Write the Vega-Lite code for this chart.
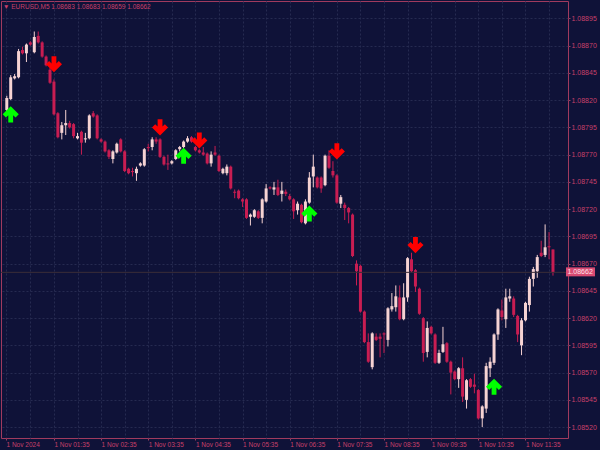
{
"$schema": "https://vega.github.io/schema/vega-lite/v6.json",
"width": 567,
"height": 437,
"autosize": {"type": "none"},
"padding": {"left": 1, "top": 1, "right": 32, "bottom": 12},
"background": "#0f1238",
"title": {"text": "▼ EURUSD,M5  1.08683 1.08683 1.08659 1.08662", "anchor": "start", "frame": "group", "orient": "top", "offset": -9, "dx": 2, "fontSize": 6.5, "font": "Liberation Sans", "fontWeight": "normal", "color": "#c8406a"},
"data": {"format": {"parse": {"t": "utc:'%Y-%m-%d %H:%M'"}}, "values": [
{"t":"2024-11-01 00:35","o":1.08811,"h":1.08824,"l":1.08810,"c":1.08822},
{"t":"2024-11-01 00:40","o":1.08821,"h":1.08843,"l":1.08820,"c":1.08841},
{"t":"2024-11-01 00:45","o":1.08840,"h":1.08844,"l":1.08839,"c":1.08842},
{"t":"2024-11-01 00:50","o":1.08841,"h":1.08867,"l":1.08840,"c":1.08865},
{"t":"2024-11-01 00:55","o":1.08866,"h":1.08869,"l":1.08862,"c":1.08863},
{"t":"2024-11-01 01:00","o":1.08863,"h":1.08872,"l":1.08855,"c":1.08871},
{"t":"2024-11-01 01:05","o":1.08873,"h":1.08874,"l":1.08870,"c":1.08871},
{"t":"2024-11-01 01:10","o":1.08864,"h":1.08883,"l":1.08863,"c":1.08878},
{"t":"2024-11-01 01:15","o":1.08879,"h":1.08883,"l":1.08872,"c":1.08873},
{"t":"2024-11-01 01:20","o":1.08873,"h":1.08874,"l":1.08859,"c":1.08860},
{"t":"2024-11-01 01:25","o":1.08860,"h":1.08861,"l":1.08851,"c":1.08852},
{"t":"2024-11-01 01:30","o":1.08848,"h":1.08850,"l":1.08835,"c":1.08836},
{"t":"2024-11-01 01:35","o":1.08837,"h":1.08839,"l":1.08806,"c":1.08807},
{"t":"2024-11-01 01:40","o":1.08808,"h":1.08809,"l":1.08785,"c":1.08786},
{"t":"2024-11-01 01:45","o":1.08790,"h":1.08800,"l":1.08784,"c":1.08797},
{"t":"2024-11-01 01:50","o":1.08797,"h":1.08811,"l":1.08788,"c":1.08799},
{"t":"2024-11-01 01:55","o":1.08799,"h":1.08801,"l":1.08794,"c":1.08795},
{"t":"2024-11-01 02:00","o":1.08798,"h":1.08799,"l":1.08785,"c":1.08787},
{"t":"2024-11-01 02:05","o":1.08785,"h":1.08790,"l":1.08784,"c":1.08787},
{"t":"2024-11-01 02:10","o":1.08791,"h":1.08792,"l":1.08770,"c":1.08781},
{"t":"2024-11-01 02:15","o":1.08784,"h":1.08790,"l":1.08781,"c":1.08785},
{"t":"2024-11-01 02:20","o":1.08785,"h":1.08807,"l":1.08784,"c":1.08806},
{"t":"2024-11-01 02:25","o":1.08808,"h":1.08810,"l":1.08804,"c":1.08805},
{"t":"2024-11-01 02:30","o":1.08806,"h":1.08807,"l":1.08784,"c":1.08785},
{"t":"2024-11-01 02:35","o":1.08784,"h":1.08785,"l":1.08781,"c":1.08782},
{"t":"2024-11-01 02:40","o":1.08782,"h":1.08783,"l":1.08772,"c":1.08773},
{"t":"2024-11-01 02:45","o":1.08774,"h":1.08775,"l":1.08766,"c":1.08768},
{"t":"2024-11-01 02:50","o":1.08766,"h":1.08774,"l":1.08762,"c":1.08773},
{"t":"2024-11-01 02:55","o":1.08772,"h":1.08781,"l":1.08771,"c":1.08780},
{"t":"2024-11-01 03:00","o":1.08784,"h":1.08785,"l":1.08772,"c":1.08773},
{"t":"2024-11-01 03:05","o":1.08773,"h":1.08774,"l":1.08754,"c":1.08755},
{"t":"2024-11-01 03:10","o":1.08757,"h":1.08758,"l":1.08752,"c":1.08753},
{"t":"2024-11-01 03:15","o":1.08755,"h":1.08758,"l":1.08750,"c":1.08754},
{"t":"2024-11-01 03:20","o":1.08753,"h":1.08759,"l":1.08746,"c":1.08757},
{"t":"2024-11-01 03:25","o":1.08760,"h":1.08763,"l":1.08759,"c":1.08762},
{"t":"2024-11-01 03:30","o":1.08760,"h":1.08776,"l":1.08759,"c":1.08775},
{"t":"2024-11-01 03:35","o":1.08777,"h":1.08780,"l":1.08773,"c":1.08776},
{"t":"2024-11-01 03:40","o":1.08777,"h":1.08786,"l":1.08774,"c":1.08784},
{"t":"2024-11-01 03:45","o":1.08784,"h":1.08786,"l":1.08780,"c":1.08782},
{"t":"2024-11-01 03:50","o":1.08784,"h":1.08785,"l":1.08767,"c":1.08768},
{"t":"2024-11-01 03:55","o":1.08768,"h":1.08769,"l":1.08760,"c":1.08761},
{"t":"2024-11-01 04:00","o":1.08762,"h":1.08770,"l":1.08756,"c":1.08761},
{"t":"2024-11-01 04:05","o":1.08762,"h":1.08765,"l":1.08761,"c":1.08764},
{"t":"2024-11-01 04:10","o":1.08766,"h":1.08775,"l":1.08765,"c":1.08774},
{"t":"2024-11-01 04:15","o":1.08775,"h":1.08778,"l":1.08773,"c":1.08777},
{"t":"2024-11-01 04:20","o":1.08777,"h":1.08783,"l":1.08776,"c":1.08782},
{"t":"2024-11-01 04:25","o":1.08782,"h":1.08787,"l":1.08781,"c":1.08785},
{"t":"2024-11-01 04:30","o":1.08786,"h":1.08787,"l":1.08781,"c":1.08782},
{"t":"2024-11-01 04:35","o":1.08777,"h":1.08778,"l":1.08773,"c":1.08774},
{"t":"2024-11-01 04:40","o":1.08774,"h":1.08775,"l":1.08771,"c":1.08772},
{"t":"2024-11-01 04:45","o":1.08772,"h":1.08777,"l":1.08769,"c":1.08770},
{"t":"2024-11-01 04:50","o":1.08771,"h":1.08772,"l":1.08761,"c":1.08762},
{"t":"2024-11-01 04:55","o":1.08762,"h":1.08773,"l":1.08759,"c":1.08770},
{"t":"2024-11-01 05:00","o":1.08772,"h":1.08778,"l":1.08769,"c":1.08770},
{"t":"2024-11-01 05:05","o":1.08769,"h":1.08770,"l":1.08754,"c":1.08755},
{"t":"2024-11-01 05:10","o":1.08753,"h":1.08758,"l":1.08752,"c":1.08757},
{"t":"2024-11-01 05:15","o":1.08753,"h":1.08761,"l":1.08751,"c":1.08759},
{"t":"2024-11-01 05:20","o":1.08759,"h":1.08760,"l":1.08738,"c":1.08739},
{"t":"2024-11-01 05:25","o":1.08736,"h":1.08738,"l":1.08730,"c":1.08735},
{"t":"2024-11-01 05:30","o":1.08737,"h":1.08738,"l":1.08729,"c":1.08730},
{"t":"2024-11-01 05:35","o":1.08729,"h":1.08730,"l":1.08722,"c":1.08727},
{"t":"2024-11-01 05:40","o":1.08729,"h":1.08730,"l":1.08711,"c":1.08712},
{"t":"2024-11-01 05:45","o":1.08713,"h":1.08716,"l":1.08705,"c":1.08715},
{"t":"2024-11-01 05:50","o":1.08713,"h":1.08720,"l":1.08712,"c":1.08719},
{"t":"2024-11-01 05:55","o":1.08718,"h":1.08719,"l":1.08711,"c":1.08712},
{"t":"2024-11-01 06:00","o":1.08712,"h":1.08730,"l":1.08707,"c":1.08729},
{"t":"2024-11-01 06:05","o":1.08727,"h":1.08743,"l":1.08726,"c":1.08739},
{"t":"2024-11-01 06:10","o":1.08740,"h":1.08741,"l":1.08738,"c":1.08739},
{"t":"2024-11-01 06:15","o":1.08738,"h":1.08745,"l":1.08733,"c":1.08740},
{"t":"2024-11-01 06:20","o":1.08740,"h":1.08747,"l":1.08732,"c":1.08733},
{"t":"2024-11-01 06:25","o":1.08734,"h":1.08745,"l":1.08727,"c":1.08737},
{"t":"2024-11-01 06:30","o":1.08736,"h":1.08738,"l":1.08732,"c":1.08734},
{"t":"2024-11-01 06:35","o":1.08732,"h":1.08734,"l":1.08728,"c":1.08729},
{"t":"2024-11-01 06:40","o":1.08729,"h":1.08730,"l":1.08711,"c":1.08718},
{"t":"2024-11-01 06:45","o":1.08719,"h":1.08727,"l":1.08715,"c":1.08725},
{"t":"2024-11-01 06:50","o":1.08724,"h":1.08725,"l":1.08707,"c":1.08708},
{"t":"2024-11-01 06:55","o":1.08707,"h":1.08729,"l":1.08706,"c":1.08727},
{"t":"2024-11-01 07:00","o":1.08726,"h":1.08754,"l":1.08725,"c":1.08749},
{"t":"2024-11-01 07:05","o":1.08750,"h":1.08770,"l":1.08740,"c":1.08759},
{"t":"2024-11-01 07:10","o":1.08749,"h":1.08750,"l":1.08739,"c":1.08740},
{"t":"2024-11-01 07:15","o":1.08749,"h":1.08750,"l":1.08735,"c":1.08739},
{"t":"2024-11-01 07:20","o":1.08742,"h":1.08770,"l":1.08741,"c":1.08769},
{"t":"2024-11-01 07:25","o":1.08769,"h":1.08774,"l":1.08757,"c":1.08758},
{"t":"2024-11-01 07:30","o":1.08755,"h":1.08764,"l":1.08749,"c":1.08751},
{"t":"2024-11-01 07:35","o":1.08751,"h":1.08752,"l":1.08725,"c":1.08726},
{"t":"2024-11-01 07:40","o":1.08725,"h":1.08733,"l":1.08721,"c":1.08731},
{"t":"2024-11-01 07:45","o":1.08724,"h":1.08726,"l":1.08710,"c":1.08721},
{"t":"2024-11-01 07:50","o":1.08721,"h":1.08722,"l":1.08707,"c":1.08717},
{"t":"2024-11-01 07:55","o":1.08715,"h":1.08716,"l":1.08676,"c":1.08677},
{"t":"2024-11-01 08:00","o":1.08670,"h":1.08673,"l":1.08650,"c":1.08663},
{"t":"2024-11-01 08:05","o":1.08668,"h":1.08669,"l":1.08625,"c":1.08626},
{"t":"2024-11-01 08:10","o":1.08626,"h":1.08627,"l":1.08597,"c":1.08598},
{"t":"2024-11-01 08:15","o":1.08598,"h":1.08606,"l":1.08579,"c":1.08580},
{"t":"2024-11-01 08:20","o":1.08575,"h":1.08607,"l":1.08573,"c":1.08606},
{"t":"2024-11-01 08:25","o":1.08603,"h":1.08606,"l":1.08599,"c":1.08600},
{"t":"2024-11-01 08:30","o":1.08603,"h":1.08606,"l":1.08584,"c":1.08601},
{"t":"2024-11-01 08:35","o":1.08606,"h":1.08607,"l":1.08588,"c":1.08605},
{"t":"2024-11-01 08:40","o":1.08600,"h":1.08630,"l":1.08594,"c":1.08629},
{"t":"2024-11-01 08:45","o":1.08628,"h":1.08643,"l":1.08626,"c":1.08631},
{"t":"2024-11-01 08:50","o":1.08630,"h":1.08650,"l":1.08626,"c":1.08640},
{"t":"2024-11-01 08:55","o":1.08639,"h":1.08650,"l":1.08618,"c":1.08619},
{"t":"2024-11-01 09:00","o":1.08619,"h":1.08652,"l":1.08618,"c":1.08639},
{"t":"2024-11-01 09:05","o":1.08639,"h":1.08676,"l":1.08635,"c":1.08675},
{"t":"2024-11-01 09:10","o":1.08674,"h":1.08680,"l":1.08662,"c":1.08663},
{"t":"2024-11-01 09:15","o":1.08664,"h":1.08665,"l":1.08644,"c":1.08649},
{"t":"2024-11-01 09:20","o":1.08647,"h":1.08648,"l":1.08623,"c":1.08624},
{"t":"2024-11-01 09:25","o":1.08620,"h":1.08621,"l":1.08580,"c":1.08588},
{"t":"2024-11-01 09:30","o":1.08589,"h":1.08617,"l":1.08584,"c":1.08611},
{"t":"2024-11-01 09:35","o":1.08612,"h":1.08613,"l":1.08605,"c":1.08606},
{"t":"2024-11-01 09:40","o":1.08605,"h":1.08606,"l":1.08578,"c":1.08579},
{"t":"2024-11-01 09:45","o":1.08579,"h":1.08591,"l":1.08578,"c":1.08588},
{"t":"2024-11-01 09:50","o":1.08589,"h":1.08612,"l":1.08588,"c":1.08596},
{"t":"2024-11-01 09:55","o":1.08597,"h":1.08598,"l":1.08579,"c":1.08580},
{"t":"2024-11-01 10:00","o":1.08580,"h":1.08581,"l":1.08550,"c":1.08570},
{"t":"2024-11-01 10:05","o":1.08571,"h":1.08572,"l":1.08563,"c":1.08564},
{"t":"2024-11-01 10:10","o":1.08564,"h":1.08575,"l":1.08556,"c":1.08574},
{"t":"2024-11-01 10:15","o":1.08574,"h":1.08584,"l":1.08543,"c":1.08548},
{"t":"2024-11-01 10:20","o":1.08545,"h":1.08564,"l":1.08537,"c":1.08563},
{"t":"2024-11-01 10:25","o":1.08564,"h":1.08565,"l":1.08556,"c":1.08557},
{"t":"2024-11-01 10:30","o":1.08559,"h":1.08569,"l":1.08551,"c":1.08557},
{"t":"2024-11-01 10:35","o":1.08554,"h":1.08555,"l":1.08527,"c":1.08528},
{"t":"2024-11-01 10:40","o":1.08528,"h":1.08540,"l":1.08520,"c":1.08539},
{"t":"2024-11-01 10:45","o":1.08537,"h":1.08579,"l":1.08533,"c":1.08576},
{"t":"2024-11-01 10:50","o":1.08574,"h":1.08584,"l":1.08566,"c":1.08580},
{"t":"2024-11-01 10:55","o":1.08579,"h":1.08606,"l":1.08577,"c":1.08605},
{"t":"2024-11-01 11:00","o":1.08605,"h":1.08629,"l":1.08600,"c":1.08628},
{"t":"2024-11-01 11:05","o":1.08627,"h":1.08637,"l":1.08618,"c":1.08621},
{"t":"2024-11-01 11:10","o":1.08619,"h":1.08647,"l":1.08611,"c":1.08639},
{"t":"2024-11-01 11:15","o":1.08638,"h":1.08647,"l":1.08635,"c":1.08640},
{"t":"2024-11-01 11:20","o":1.08638,"h":1.08640,"l":1.08621,"c":1.08623},
{"t":"2024-11-01 11:25","o":1.08622,"h":1.08623,"l":1.08598,"c":1.08605},
{"t":"2024-11-01 11:30","o":1.08595,"h":1.08620,"l":1.08586,"c":1.08618},
{"t":"2024-11-01 11:35","o":1.08618,"h":1.08635,"l":1.08617,"c":1.08634},
{"t":"2024-11-01 11:40","o":1.08632,"h":1.08658,"l":1.08626,"c":1.08656},
{"t":"2024-11-01 11:45","o":1.08656,"h":1.08667,"l":1.08649,"c":1.08665},
{"t":"2024-11-01 11:50","o":1.08663,"h":1.08678,"l":1.08657,"c":1.08676},
{"t":"2024-11-01 11:55","o":1.08680,"h":1.08691,"l":1.08676,"c":1.08677},
{"t":"2024-11-01 12:00","o":1.08678,"h":1.08706,"l":1.08676,"c":1.08685},
{"t":"2024-11-01 12:05","o":1.08686,"h":1.08699,"l":1.08674,"c":1.08685},
{"t":"2024-11-01 12:10","o":1.08683,"h":1.08683,"l":1.08659,"c":1.08662}
]},
"encoding": {
"x": {"field": "t", "type": "temporal",
"scale": {"type": "utc", "nice": false, "domain": [{"year": 2024, "month": 11, "date": 1, "hours": 0, "minutes": 34, "utc": true}, {"year": 2024, "month": 11, "date": 1, "hours": 12, "minutes": 22, "seconds": 45, "utc": true}]},
"axis": {"orient": "bottom", "title": null, "grid": true, "tickCount": 100, "labelFontSize": 6.5,
"values": [
{"year": 2024, "month": 11, "date": 1, "hours": 0, "minutes": 34, "utc": true},
{"year": 2024, "month": 11, "date": 1, "hours": 1, "minutes": 5, "utc": true},
{"year": 2024, "month": 11, "date": 1, "hours": 1, "minutes": 35, "utc": true},
{"year": 2024, "month": 11, "date": 1, "hours": 2, "minutes": 5, "utc": true},
{"year": 2024, "month": 11, "date": 1, "hours": 2, "minutes": 35, "utc": true},
{"year": 2024, "month": 11, "date": 1, "hours": 3, "minutes": 5, "utc": true},
{"year": 2024, "month": 11, "date": 1, "hours": 3, "minutes": 35, "utc": true},
{"year": 2024, "month": 11, "date": 1, "hours": 4, "minutes": 5, "utc": true},
{"year": 2024, "month": 11, "date": 1, "hours": 4, "minutes": 35, "utc": true},
{"year": 2024, "month": 11, "date": 1, "hours": 5, "minutes": 5, "utc": true},
{"year": 2024, "month": 11, "date": 1, "hours": 5, "minutes": 35, "utc": true},
{"year": 2024, "month": 11, "date": 1, "hours": 6, "minutes": 5, "utc": true},
{"year": 2024, "month": 11, "date": 1, "hours": 6, "minutes": 35, "utc": true},
{"year": 2024, "month": 11, "date": 1, "hours": 7, "minutes": 5, "utc": true},
{"year": 2024, "month": 11, "date": 1, "hours": 7, "minutes": 35, "utc": true},
{"year": 2024, "month": 11, "date": 1, "hours": 8, "minutes": 5, "utc": true},
{"year": 2024, "month": 11, "date": 1, "hours": 8, "minutes": 35, "utc": true},
{"year": 2024, "month": 11, "date": 1, "hours": 9, "minutes": 5, "utc": true},
{"year": 2024, "month": 11, "date": 1, "hours": 9, "minutes": 35, "utc": true},
{"year": 2024, "month": 11, "date": 1, "hours": 10, "minutes": 5, "utc": true},
{"year": 2024, "month": 11, "date": 1, "hours": 10, "minutes": 35, "utc": true},
{"year": 2024, "month": 11, "date": 1, "hours": 11, "minutes": 5, "utc": true},
{"year": 2024, "month": 11, "date": 1, "hours": 11, "minutes": 35, "utc": true},
{"year": 2024, "month": 11, "date": 1, "hours": 12, "minutes": 5, "utc": true}
],
"labelExpr": "utchours(datum.value) == 0 ? '1 Nov 2024' : (utcminutes(datum.value) == 35 ? '1 Nov ' + utcFormat(datum.value, '%H:%M') : '')",
"labelAlign": "left", "labelBaseline": "top", "labelOverlap": false, "labelFlush": false, "labelBound": false,
"tickOpacity": {"condition": {"test": "utcminutes(datum.value) == 5", "value": 0}, "value": 1}
}
},
"color": {"condition": {"test": "datum.c >= datum.o", "value": "#f6d3d3"}, "value": "#c81d52"}
},
"layer": [
{
"mark": {"type": "rule", "strokeWidth": 1},
"encoding": {
"y": {"field": "l", "type": "quantitative",
"scale": {"domain": [1.0851, 1.08911], "zero": false, "nice": false},
"axis": {"orient": "right", "title": null, "grid": true, "format": ".5f", "labelOverlap": false, "labelFlush": false, "tickCount": 100,
"values": [1.0852, 1.08545, 1.0857, 1.08595, 1.0862, 1.08645, 1.0867, 1.08695, 1.0872, 1.08745, 1.0877, 1.08795, 1.0882, 1.08845, 1.0887, 1.08895]}
},
"y2": {"field": "h"}
}
},
{
"mark": {"type": "bar", "size": 3},
"encoding": {
"y": {"field": "o", "type": "quantitative"},
"y2": {"field": "c"}
}
},
{
"transform": [{"filter": "utchours(datum.t) == 12 && utcminutes(datum.t) == 10"}],
"layer": [
{"mark": {"type": "rule", "strokeWidth": 1},
"encoding": {"x": null, "color": {"value": "#3a2d38"}, "y": {"field": "c", "type": "quantitative"}}},
{"mark": {"type": "point", "filled": true, "opacity": 1, "size": 400, "strokeWidth": 0, "clip": false},
"encoding": {
"y": {"field": "c", "type": "quantitative"},
"color": {"value": "#d84a72"},
"shape": {"value": "M1.3,-0.5L4.2,-0.5L4.2,0.4L1.3,0.4Z"}
}},
{"mark": {"type": "text", "align": "left", "baseline": "middle", "font": "Liberation Sans", "fontSize": 7, "dx": 14.5, "dy": -0.5, "clip": false},
"encoding": {
"y": {"field": "c", "type": "quantitative"},
"color": {"value": "#ffe0e8"},
"text": {"field": "c", "format": ".5f"}
}}
]
},
{
"data": {"format": {"parse": {"t": "utc:'%Y-%m-%d %H:%M'"}}, "values": [
{"t":"2024-11-01 00:40","dir":"up","p":1.08807},
{"t":"2024-11-01 01:35","dir":"down","p":1.08853},
{"t":"2024-11-01 03:50","dir":"down","p":1.08795},
{"t":"2024-11-01 04:20","dir":"up","p":1.08769},
{"t":"2024-11-01 04:40","dir":"down","p":1.08783},
{"t":"2024-11-01 07:00","dir":"up","p":1.08716},
{"t":"2024-11-01 07:35","dir":"down","p":1.08773},
{"t":"2024-11-01 09:15","dir":"down","p":1.08687},
{"t":"2024-11-01 10:55","dir":"up","p":1.08557}
]},
"mark": {"type": "point", "filled": true, "opacity": 1, "size": 260, "strokeWidth": 0},
"encoding": {
"y": {"field": "p", "type": "quantitative"},
"shape": {"field": "dir", "type": "nominal", "legend": null,
"scale": {"domain": ["up", "down"], "range": ["M-0.3,1L0.3,1L0.3,0.1L0.6,0.4L1,0L0,-1L-1,0L-0.6,0.4L-0.3,0.1Z", "M-0.3,-1L0.3,-1L0.3,-0.1L0.6,-0.4L1,0L0,1L-1,0L-0.6,-0.4L-0.3,-0.1Z"]}},
"color": {"field": "dir", "type": "nominal", "legend": null,
"scale": {"domain": ["up", "down"], "range": ["#00ff00", "#ff0000"]}}
}
}
],
"config": {
"view": {"stroke": "#a03a5e", "strokeWidth": 1, "fill": "#0f1238"},
"axis": {"domain": false, "labelFont": "Liberation Sans", "labelFontSize": 7, "labelColor": "#c8406a", "tickColor": "#a03a5e", "tickSize": 2, "labelPadding": 1, "labelOverlap": false, "gridColor": "#262a50", "gridDash": [2, 2], "gridWidth": 1}
}
}
